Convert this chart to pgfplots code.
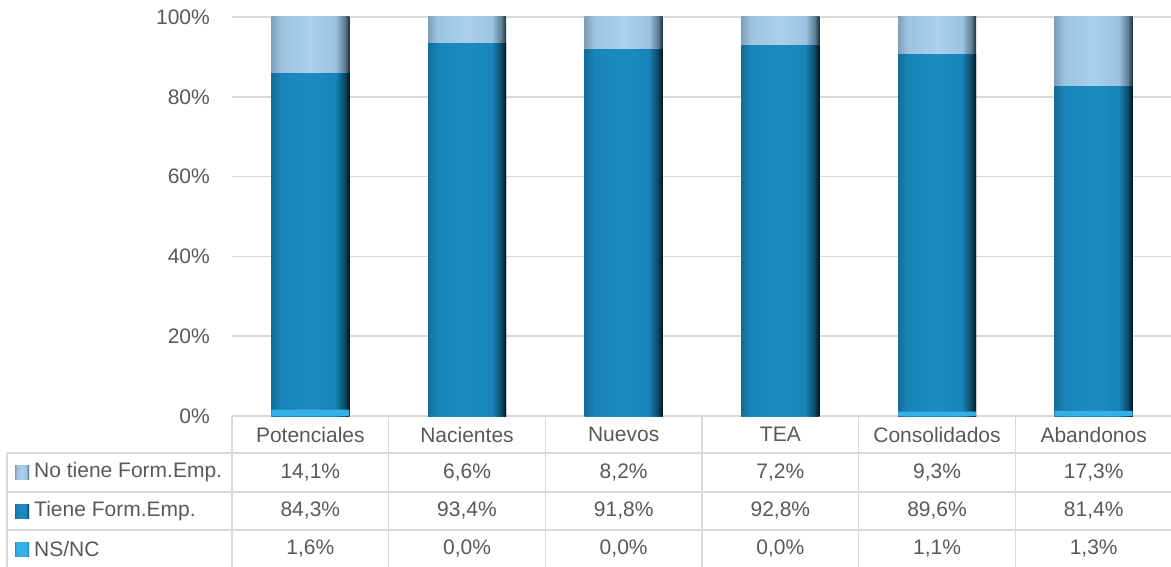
\documentclass[border=0pt]{standalone}
\usepackage{pgfplots}
\pgfplotsset{compat=1.18}
\usepackage{pgfplotstable}
\usepackage{fontspec}
\setmainfont{Liberation Sans}

\definecolor{txt}{HTML}{595959}
\definecolor{gridc}{HTML}{D9D9D9}
\definecolor{tA}{HTML}{136D96}
\definecolor{tB}{HTML}{1884B8}
\definecolor{tC}{HTML}{1A8CC2}
\definecolor{tD}{HTML}{0B4866}
\definecolor{tE}{HTML}{03141E}
\definecolor{nA}{HTML}{7E9FB8}
\definecolor{nB}{HTML}{9CC3DF}
\definecolor{nC}{HTML}{AAD0EC}
\definecolor{nD}{HTML}{5E7F96}
\definecolor{nE}{HTML}{1F2F3C}
\definecolor{sA}{HTML}{1F8FC4}
\definecolor{sB}{HTML}{35B0E6}
\definecolor{sE}{HTML}{062A3C}

\pgfdeclarehorizontalshading{tienesh}{100bp}{color(0bp)=(tA); color(25bp)=(tA); color(31bp)=(tB); color(50bp)=(tC); color(66bp)=(tB); color(72bp)=(tD); color(75bp)=(tE); color(100bp)=(tE)}
\pgfdeclarehorizontalshading{nosh}{100bp}{color(0bp)=(nA); color(25bp)=(nA); color(31bp)=(nB); color(50bp)=(nC); color(66bp)=(nB); color(72bp)=(nD); color(75bp)=(nE); color(100bp)=(nE)}
\pgfdeclarehorizontalshading{nssh}{100bp}{color(0bp)=(sA); color(25bp)=(sA); color(31bp)=(sB); color(50bp)=(sB); color(66bp)=(sB); color(72bp)=(sA); color(75bp)=(sE); color(100bp)=(sE)}

\pgfplotstableread{
x ns tiene no
0 1.6 84.3 14.1
1 0.0 93.4 6.6
2 0.0 91.8 8.2
3 0.0 92.8 7.2
4 1.1 89.6 9.3
5 1.3 81.4 17.3
}\data

\begin{document}
{\fontsize{21}{25}\selectfont\color{txt}%
\begin{tikzpicture}
\path[use as bounding box] (0pt,0pt) rectangle (1171pt,566pt);
\begin{axis}[
  at={(232pt,150pt)}, anchor=south west,
  scale only axis, width=940pt, height=399pt,
  xmin=-0.5, xmax=5.5, ymin=0, ymax=100,
  ybar, bar width=78pt, bar shift=0pt,
  axis line style={draw=none},
  tick style={draw=none},
  xtick=\empty,
  ytick={0,20,40,60,80,100},
  yticklabels={0\%,20\%,40\%,60\%,80\%,100\%},
  yticklabel style={font=\fontsize{21}{25}\selectfont, text=txt, xshift=-15pt},
  ymajorgrids, grid style={gridc, line width=1.6pt},
  clip=false,
]
% stacked by overlaying cumulative bars, one path per bar so each bar gets its own shading
\pgfplotsinvokeforeach{0,...,5}{
  \addplot[shade, shading=nosh, draw=none, bar shift=0pt]
    table[x=x, y expr=\thisrow{ns}+\thisrow{tiene}+\thisrow{no}, restrict x to domain=#1:#1] {\data};
  \addplot[shade, shading=tienesh, draw=none, bar shift=0pt]
    table[x=x, y expr=\thisrow{ns}+\thisrow{tiene}, restrict x to domain=#1:#1] {\data};
}
\addplot[fill=sB, draw=none, bar shift=0pt] table[x=x, y=ns] {\data};
\end{axis}
\begin{scope}[x=1pt, y=1pt]
  \draw[gridc, line width=1.6pt] (7,113) -- (1171,113);
  \draw[gridc, line width=1.6pt] (7,74) -- (1171,74);
  \draw[gridc, line width=1.6pt] (7,36) -- (1171,36);
  \draw[gridc, line width=1.6pt] (7,-2) -- (7,113);
  \foreach \k in {0,...,5} {
    \draw[gridc, line width=1.6pt] ({232+156.67*\k},-2) -- ({232+156.67*\k},150);
  }
  \foreach \lab [count=\i from 0] in {Potenciales,Nacientes,Nuevos,TEA,Consolidados,Abandonos} {
    \node[text=txt] at ({232+156.67*(\i+0.5)},131.5) {\lab};
  }
  \foreach \v [count=\i from 0] in {{14,1\%},{6,6\%},{8,2\%},{7,2\%},{9,3\%},{17,3\%}} {
    \node[text=txt] at ({232+156.67*(\i+0.5)},93.5) {\v};
  }
  \foreach \v [count=\i from 0] in {{84,3\%},{93,4\%},{91,8\%},{92,8\%},{89,6\%},{81,4\%}} {
    \node[text=txt] at ({232+156.67*(\i+0.5)},55) {\v};
  }
  \foreach \v [count=\i from 0] in {{1,6\%},{0,0\%},{0,0\%},{0,0\%},{1,1\%},{1,3\%}} {
    \node[text=txt] at ({232+156.67*(\i+0.5)},17) {\v};
  }
  \path[shade, shading=nosh] (15,87) rectangle (29,101);
  \path[shade, shading=tienesh] (15,48) rectangle (29,62);
  \path[shade, shading=nssh] (15,10) rectangle (29,24);
  \node[text=txt, anchor=west, inner sep=0pt] at (34,93.5) {No tiene Form.Emp.};
  \node[text=txt, anchor=west, inner sep=0pt] at (34,55) {Tiene Form.Emp.};
  \node[text=txt, anchor=west, inner sep=0pt] at (34,17) {NS/NC};
\end{scope}
\end{tikzpicture}}
\end{document}
